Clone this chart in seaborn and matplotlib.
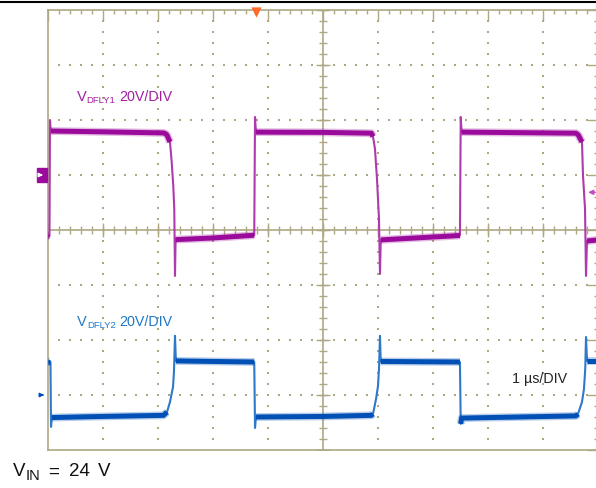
import numpy as np
import matplotlib
matplotlib.use("Agg")
import matplotlib.pyplot as plt
from matplotlib.lines import Line2D
from matplotlib.patches import Rectangle
import seaborn as sns

sns.set_style("white")
plt.rcParams['font.family'] = ['Liberation Sans', 'DejaVu Sans']

# scope settings
volts_per_div = 20     # V/DIV both channels
ground1 = 1            # ch1 ground marker (div from centre)
ground2 = -3           # ch2 ground marker
trig_time = 3.78       # us, orange marker
trig_level = 0.685     # div, ch1 trigger arrow

# V_DFLY1 (purple), time in us, volts
t1 = [0.000, 0.027, 0.036, 0.050, 1.000, 2.100, 2.140, 2.164, 2.218, 2.249,
      2.278, 2.296, 2.309, 2.320, 3.000, 3.750, 3.764, 3.780, 5.000, 5.880,
      5.909, 5.945, 5.982, 6.018, 6.036, 6.050, 7.490, 7.504, 7.520, 9.600,
      9.640, 9.709, 9.727, 9.764, 9.782, 9.800, 10.00]
v1 = [-22.2, -22.2, 20.0, 16.0, 15.7, 15.3, 15.0, 14.5, 12.0, 4.7,
      -4.0, -12.4, -36.7, -23.5, -22.9, -21.9, 21.1, 15.6, 15.5, 15.2,
      14.0, 9.5, -1.5, -16.0, -36.0, -23.6, -22.0, 21.1, 15.6, 15.2,
      14.6, 12.0, 0.0, -12.4, -36.7, -24.0, -23.6]

# V_DFLY2 (blue)
t2 = [0.000, 0.045, 0.055, 0.070, 1.000, 2.100, 2.164, 2.218, 2.273, 2.290,
      2.309, 2.325, 3.000, 3.750, 3.764, 3.780, 5.000, 5.880, 5.909, 5.964,
      6.000, 6.018, 6.036, 6.050, 7.490, 7.504, 7.520, 9.600, 9.636, 9.709,
      9.745, 9.768, 9.782, 9.800, 10.00]
v2 = [12.0, 12.0, -11.6, -8.2, -7.8, -7.4, -6.2, -2.5, 2.9, 8.4,
      21.5, 12.4, 12.2, 12.0, -12.0, -8.0, -7.8, -7.4, -6.9, -1.5,
      3.3, 9.5, 21.5, 12.2, 12.0, -10.5, -8.4, -7.6, -6.9, -2.5,
      2.2, 9.5, 21.1, 12.4, 12.4]

purple = '#9B0B9B'
purple_edge = '#AE3AAE'
purple_txt = '#A21FA2'
blue = '#0050B5'
blue_edge = '#2F78CA'
blue_txt = '#1E78C8'
grid_c = '#AEA883'

W, H = 596, 489
fig = plt.figure(figsize=(W / 100, H / 100), dpi=100)
ax = fig.add_axes([48 / W, 38 / H, 550 / W, 440 / H])
ax.set_xlim(0, 10)
ax.set_ylim(-4, 4)

# graticule
for s in ax.spines.values():
    s.set_color(grid_c)
    s.set_linewidth(1.2)
ax.set_xticks(np.arange(0, 11, 1))
ax.set_yticks(np.arange(-4, 5, 1))
ax.set_xticks(np.arange(0, 10.01, 0.2), minor=True)
ax.set_yticks(np.arange(-4, 4.01, 0.2), minor=True)
ax.tick_params(which='both', direction='in', top=True, right=True,
               labelbottom=False, labelleft=False, color=grid_c, width=1)
ax.tick_params(which='major', length=8)
ax.tick_params(which='minor', length=3.2)

minor_x = np.round(np.arange(0, 10.01, 0.2), 2)
minor_y = np.round(np.arange(-4, 4.01, 0.2), 2)
dx, dy = [], []
for gx in range(1, 10):
    if gx == 5:
        continue
    for my in minor_y[1:-1]:
        dx.append(gx); dy.append(my)
for gy in range(-3, 4):
    if gy == 0:
        continue
    for mx in minor_x[1:-1]:
        dx.append(mx); dy.append(gy)
ax.scatter(dx, dy, s=2.2, marker='s', color=grid_c, linewidths=0, zorder=1)

ax.axhline(0, color=grid_c, lw=1.2, zorder=1)
ax.axvline(5, color=grid_c, lw=1.2, zorder=1)
ax.scatter(minor_x, np.zeros_like(minor_x), marker='|', s=36, color=grid_c,
           linewidths=1, zorder=1)
ax.scatter(np.full_like(minor_y, 5), minor_y, marker='_', s=36, color=grid_c,
           linewidths=1, zorder=1)
ax.scatter(np.arange(0, 11), np.zeros(11), marker='|', s=100, color=grid_c,
           linewidths=1, zorder=1)
ax.scatter(np.full(9, 5), np.arange(-4, 5), marker='_', s=100, color=grid_c,
           linewidths=1, zorder=1)


def draw_trace(t, volts, ground, color, edge):
    t = np.asarray(t)
    y = np.asarray(volts) / volts_per_div + ground
    sns.lineplot(x=t, y=y, sort=False, estimator=None, color=edge, lw=1.5,
                 ax=ax, zorder=3)
    flat = np.abs(np.diff(volts)) < 3
    i = 0
    while i < len(flat):
        if flat[i]:
            j = i
            while j < len(flat) and flat[j]:
                j += 1
            ax.plot(t[i:j + 1], y[i:j + 1], color=color, lw=5.6, alpha=0.28,
                    solid_capstyle='butt', zorder=3)
            ax.plot(t[i:j + 1], y[i:j + 1], color=color, lw=3.6,
                    solid_capstyle='butt', zorder=4)
            i = j
        else:
            i += 1


draw_trace(t1, v1, ground1, purple, purple_edge)
draw_trace(t2, v2, ground2, blue, blue_edge)

# channel / trigger markers
ax.add_patch(Rectangle((-0.205, ground1 - 0.125), 0.19, 0.25, color=purple,
                       clip_on=False, zorder=5))
ax.annotate('', xy=(-0.04, ground1), xytext=(-0.19, ground1),
            arrowprops=dict(arrowstyle='-|>', color='white', lw=1.0,
                            mutation_scale=6), annotation_clip=False, zorder=6)
ax.annotate('', xy=(-0.02, ground2), xytext=(-0.15, ground2),
            arrowprops=dict(arrowstyle='-|>', color=blue, lw=1,
                            mutation_scale=6), annotation_clip=False)
ax.annotate('', xy=(9.77, trig_level), xytext=(10.0, trig_level),
            arrowprops=dict(arrowstyle='-|>', color='#C24CC2', lw=1.1,
                            mutation_scale=7), annotation_clip=False)
ax.scatter([trig_time], [3.955], marker='v', s=55, color='#FF6A2A',
           linewidths=0, clip_on=False, zorder=6)

fig.add_artist(Line2D([0, 1], [1 - 2.5 / H, 1 - 2.5 / H], color='black', lw=1.5))


def ftext(x, y, s, **kw):
    fig.text(x / W, 1 - y / H, s, va='baseline', ha='left', **kw)


ftext(76.7, 101, 'V', size=10.5, color=purple_txt)
ftext(86.5, 103, 'DFLY1', size=6.8, color=purple_txt)
ftext(119, 101, '20V/DIV', size=10.3, color=purple_txt)

ftext(77.3, 326, 'V', size=10.5, color=blue_txt)
ftext(87.1, 328, 'DFLY2', size=6.8, color=blue_txt)
ftext(119.5, 326, '20V/DIV', size=10.3, color=blue_txt)

ftext(511.7, 383.3, '1 \u00b5s/DIV', size=10.3, color='#222222')

ftext(13.0, 476.5, 'V', size=13.5, color='#111111')
ftext(25.5, 480, 'IN', size=10.5, color='#111111')
ftext(48.0, 476.5, '=', size=13.5, color='#111111')
ftext(69.5, 476.5, '24', size=13.5, color='#111111')
ftext(98.0, 476.5, 'V', size=13.5, color='#111111')

fig.savefig('out.png', dpi=100)
